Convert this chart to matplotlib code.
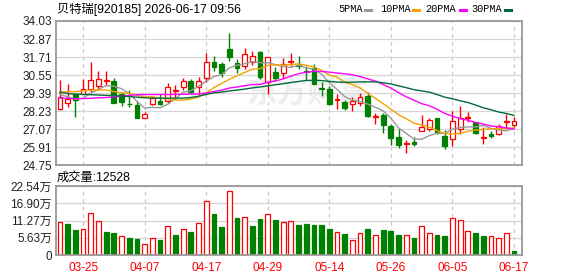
import numpy as np
import pandas as pd
import matplotlib
matplotlib.use('Agg')
import matplotlib.pyplot as plt
from matplotlib.lines import Line2D

plt.rcParams['font.family'] = ['Liberation Sans', 'Noto Sans CJK SC']

# trading days shown
dates = ['03-20','03-23','03-24','03-25','03-26','03-27','03-30','03-31',
         '04-01','04-02','04-03','04-07','04-08','04-09','04-10','04-13','04-14','04-15','04-16','04-17',
         '04-20','04-21','04-22','04-23','04-24','04-27','04-28','04-29','04-30',
         '05-06','05-07','05-08','05-11','05-12','05-13','05-14','05-15','05-18','05-19','05-20',
         '05-21','05-22','05-25','05-26','05-27','05-28','05-29',
         '06-01','06-02','06-03','06-04','06-05','06-08','06-09','06-10','06-11','06-12','06-15','06-16','06-17']

opens = [28.34,28.73,29.33,29.33,29.65,29.82,30.16,30.15,29.30,28.69,
         28.62,27.77,28.69,28.88,28.85,29.52,29.79,30.17,29.77,30.33,
         31.40,31.25,32.23,31.32,31.12,31.42,32.04,30.10,30.74,30.65,
         31.36,31.22,30.83,30.99,29.73,29.64,28.92,28.84,28.67,28.72,
         29.20,27.86,27.96,27.25,26.58,26.09,26.21,26.95,27.10,27.77,
         26.64,26.42,27.04,27.80,27.50,26.52,26.76,26.74,27.52,27.34]
highs = [30.23,29.97,29.40,30.29,31.39,30.83,30.82,30.36,29.48,29.58,
         28.90,28.14,29.16,29.35,30.04,29.89,30.35,30.28,30.42,31.99,
         31.80,31.40,33.26,31.60,32.28,32.08,32.12,31.68,31.05,31.62,
         31.98,31.78,31.15,31.25,30.12,29.82,29.30,28.95,29.11,29.36,
         29.47,28.13,28.11,27.37,27.05,26.38,26.53,27.98,27.77,27.81,
         27.03,28.20,28.54,28.16,27.55,27.18,26.91,27.37,28.03,27.82]
lows = [28.32,28.51,27.86,29.30,29.48,29.60,29.88,28.77,28.57,28.48,
        27.75,27.76,28.63,28.60,28.73,29.00,29.58,29.37,29.25,30.13,
        30.83,30.39,31.47,30.70,30.92,31.20,30.27,29.33,30.15,30.35,
        31.10,30.94,30.23,29.95,29.22,28.64,28.36,28.31,28.22,28.52,
        27.82,27.38,26.82,26.05,25.87,25.53,25.95,26.95,26.93,26.72,
        25.81,25.99,26.75,27.50,26.77,26.12,26.50,26.67,27.15,27.20]
closes = [29.13,29.00,28.96,29.63,30.23,30.29,30.22,28.77,28.83,28.66,
          27.78,28.02,29.05,28.70,29.76,29.58,30.14,29.47,30.14,31.40,
          31.09,30.71,31.69,31.00,31.89,31.75,30.40,31.68,30.38,31.29,
          31.43,31.15,30.77,29.99,29.66,28.71,29.00,28.44,28.87,29.16,
          27.92,27.93,27.30,26.51,26.03,26.16,26.13,27.23,27.66,26.85,
          26.00,27.57,27.77,27.85,26.79,26.56,26.60,27.25,27.58,27.56]
# volume in 万 shares
volumes = [10.78,10.23,8.27,8.49,13.72,11.11,7.61,7.19,6.21,5.65,
           5.32,3.59,5.55,5.00,9.47,6.63,8.59,7.61,10.45,17.64,
           13.49,9.25,20.91,12.19,12.41,9.57,11.86,13.39,11.53,10.88,
           11.10,9.90,10.23,9.90,9.90,8.59,7.51,6.96,5.00,7.19,
           8.59,6.53,8.27,7.94,6.63,6.53,5.65,9.47,7.19,6.63,
           6.31,12.09,11.53,7.94,7.19,6.31,6.31,5.55,7.19,1.2528]

# moving average values at the start (history before the window)
ma5_head = [29.30,29.15,28.98,29.05]
ma10_head = [29.45,29.47,29.48,29.52,29.58,29.60,29.58,29.48,29.40]
ma20_head = [29.07,29.05,29.02,29.03,29.05,29.08,29.10,29.13,29.18,29.24,
             29.28,29.29,29.29,29.29,29.29,29.30,29.31,29.31,29.33]
ma30_head = [29.45,29.35,29.32,29.30,29.28,29.26,29.24,29.22,29.19,29.16,
             29.12,29.08,29.06,29.06,29.06,29.06,29.06,29.10,29.18,29.30,
             29.40,29.45,29.52,29.58,29.64,29.72,29.78,29.85,29.92]

price_ticks = [24.75,25.91,27.07,28.23,29.39,30.55,31.71,32.87,34.03]
vol_ticks = [0,5.63,11.27,16.90,22.54]
vol_tick_labels = ['0','5.63万','11.27万','16.90万','22.54万']

RED = '#ff0000'
GREEN = '#008000'
ma_colors = ['#999999','#f5a300','#ff00ff','#006b3c']
ma_names = ['5PMA','10PMA','20PMA','30PMA']

x = np.arange(len(dates))
o = np.array(opens); c = np.array(closes); h = np.array(highs); l = np.array(lows)
cs = pd.Series(closes)
mas = []
for n, head in zip([5,10,20,30],[ma5_head,ma10_head,ma20_head,ma30_head]):
    m = cs.rolling(n).mean().values
    m[:len(head)] = head
    mas.append(m)

fig = plt.figure(figsize=(5.78,2.76), dpi=100)
ax = fig.add_axes([56/578, 1-165/276, 466/578, 144/276])
axv = fig.add_axes([56/578, 1-255/276, 466/578, 69/276])

xlim = (-0.52, len(dates)+0.04)
tick_idx = list(range(3, len(dates), 8))

# candles
up = c >= o
col = np.where(up, RED, GREEN)
ax.vlines(x, l, h, colors=col, lw=1.0, zorder=2)
body_h = np.maximum(np.abs(c-o), 0.015)
ax.bar(x, body_h, bottom=np.minimum(o,c), width=0.62,
       color=np.where(up,'white',GREEN), edgecolor=col, lw=0.9, zorder=2.5)
for m, cc in zip(mas, ma_colors):
    ax.plot(x, m, color=cc, lw=1.0, zorder=3)

# watermark
ax.text(0.54, 0.5, '东方财富', transform=ax.transAxes, fontsize=22, color='#eeeeee',
        fontweight='bold', style='italic', ha='center', va='center', zorder=0.5,
        family=['Noto Sans CJK SC'])

# volume bars, color by close vs previous close
vup = np.concatenate([[True], c[1:] >= c[:-1]])
axv.bar(x, volumes, width=0.62, color=np.where(vup,'white',GREEN),
        edgecolor=np.where(vup,RED,GREEN), lw=0.9, zorder=2)

for a in (ax, axv):
    a.set_xlim(*xlim)
    a.set_xticks(tick_idx)
    for t in tick_idx:
        a.axvline(t, color='#c8c8c8', lw=0.9, ls=(0,(3,3)), zorder=0)
    a.tick_params(length=0, labelsize=8.5, colors='#222222', pad=3)
    for s in a.spines.values():
        s.set_color('#999999'); s.set_linewidth(1.3)
    a.grid(axis='y', color='#d6d6d6', lw=0.9, zorder=0)
    a.set_axisbelow(True)

ax.set_ylim(price_ticks[0], price_ticks[-1])
ax.set_yticks(price_ticks)
ax.set_yticklabels(['%.2f' % v for v in price_ticks])
ax.set_xticklabels([])

axv.set_ylim(0, vol_ticks[-1])
axv.set_yticks(vol_ticks)
axv.set_yticklabels(vol_tick_labels)
axv.set_xticklabels([dates[i] for i in tick_idx], color=RED)
axv.tick_params(axis='x', pad=5)

fig.text(57/578, 1-9/276, '贝特瑞[920185] 2026-06-17 09:56', fontsize=8.8, va='center', ha='left')
fig.text(57/578, 1-178/276, '成交量:12528', fontsize=8.8, va='center', ha='left')

# legend
lx = [338, 380, 425, 471]
dx = [365, 413, 460, 505]
for name, cc, tx, d in zip(ma_names, ma_colors, lx, dx):
    fig.text(tx/578, 1-9/276, name, fontsize=7.4, va='center', ha='left',
             family=['Liberation Mono'])
    fig.add_artist(Line2D([d/578, (d+6)/578], [1-9.5/276]*2, color=cc, lw=2.2))

fig.savefig('out.png', dpi=100)
